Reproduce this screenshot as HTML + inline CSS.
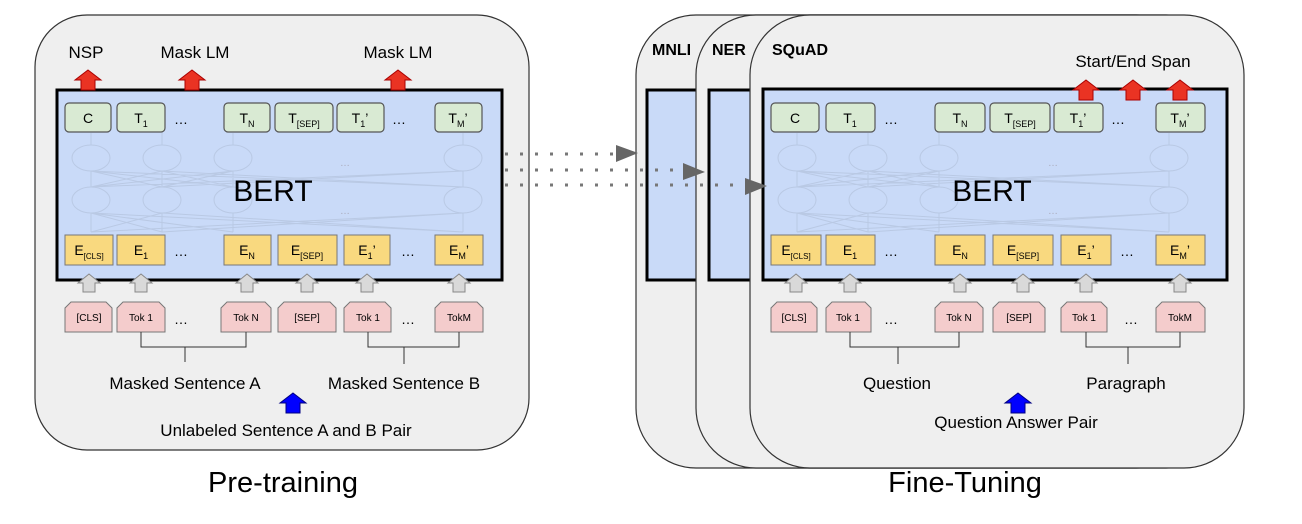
<!DOCTYPE html>
<html><head><meta charset="utf-8"><style>
html,body{margin:0;padding:0;background:#fff;}
svg{display:block;font-family:"Liberation Sans",sans-serif;}
</style></head><body>
<svg width="1302" height="524" viewBox="0 0 1302 524" xmlns="http://www.w3.org/2000/svg">
<defs>
<g id="net" stroke="#b3c2dc" stroke-width="1" fill="none" opacity="0.7">
  <ellipse cx="91" cy="158" rx="19" ry="13"/><ellipse cx="162" cy="158" rx="19" ry="13"/><ellipse cx="233" cy="158" rx="19" ry="13"/><ellipse cx="463" cy="158" rx="19" ry="13"/>
  <ellipse cx="91" cy="200" rx="19" ry="13"/><ellipse cx="162" cy="200" rx="19" ry="13"/><ellipse cx="233" cy="200" rx="19" ry="13"/><ellipse cx="463" cy="200" rx="19" ry="13"/>
  <path d="M91 187 L91 171 M162 187 L162 171 M233 187 L233 171 M463 187 L463 171 M91 187 L162 171 M91 187 L233 171 M91 187 L463 171 M162 187 L91 171 M162 187 L233 171 M162 187 L463 171 M233 187 L91 171 M233 187 L162 171 M463 187 L91 171 M463 187 L162 171"/>
  <path d="M91 232 L91 213 M162 232 L162 213 M233 232 L233 213 M463 232 L463 213 M91 232 L162 213 M91 232 L463 213 M162 232 L91 213 M162 232 L463 213 M233 232 L91 213 M463 232 L91 213 M463 232 L162 213"/>
  <path d="M91 145 L91 133 M162 145 L162 133 M233 145 L233 133 M463 145 L463 133"/>
</g>
<g id="garr"><polygon points="0,-9 11,0 6,0 6,9 -6,9 -6,0 -11,0" fill="#d9d9d9" stroke="#888" stroke-width="1"/></g>
<g id="rarr"><polygon points="0,-10 13,0 7,0 7,10 -7,10 -7,0 -13,0" fill="#ea3323" stroke="#a00" stroke-width="1"/></g>
<g id="barr"><polygon points="0,-10 13,0 7,0 7,10 -7,10 -7,0 -13,0" fill="#0000ff" stroke="#000080" stroke-width="1"/></g>
</defs>

<!-- LEFT PANEL -->
<rect x="35" y="15" width="494" height="435" rx="52" fill="#efefef" stroke="#333" stroke-width="1.2"/>
<text x="86" y="58" font-size="17" text-anchor="middle">NSP</text>
<text x="195" y="58" font-size="17" text-anchor="middle">Mask LM</text>
<text x="398" y="58" font-size="17" text-anchor="middle">Mask LM</text>
<rect x="57" y="90" width="445" height="190" fill="#c9daf8" stroke="#000" stroke-width="3"/>
<use href="#rarr" x="88" y="80"/><use href="#rarr" x="192" y="80"/><use href="#rarr" x="398" y="80"/>
<use href="#net"/>
<text x="345" y="166" font-size="10" fill="#aab" text-anchor="middle">…</text>
<text x="345" y="214" font-size="10" fill="#aab" text-anchor="middle">…</text>
<text x="273" y="201" font-size="30" text-anchor="middle">BERT</text>
<g fill="#d9ead3" stroke="#555" stroke-width="1.2">
<rect x="65" y="103" width="46" height="29" rx="4"/><rect x="117" y="103" width="48" height="29" rx="4"/><rect x="224" y="103" width="46" height="29" rx="4"/><rect x="275" y="103" width="58" height="29" rx="4"/><rect x="337" y="103" width="47" height="29" rx="4"/><rect x="435" y="103" width="47" height="29" rx="4"/>
</g>
<g font-size="14" text-anchor="middle">
<text x="88" y="123">C</text>
<text x="141" y="123">T<tspan font-size="9" dy="4">1</tspan></text>
<text x="181" y="124">…</text>
<text x="247" y="123">T<tspan font-size="9" dy="4">N</tspan></text>
<text x="304" y="123">T<tspan font-size="9" dy="4">[SEP]</tspan></text>
<text x="360" y="123">T<tspan font-size="9" dy="4">1</tspan><tspan dy="-4">’</tspan></text>
<text x="399" y="124">…</text>
<text x="458" y="123">T<tspan font-size="9" dy="4">M</tspan><tspan dy="-4">’</tspan></text>
</g>
<g fill="#f9d97f" stroke="#777" stroke-width="1">
<rect x="65" y="235" width="48" height="30"/><rect x="117" y="235" width="48" height="30"/><rect x="224" y="235" width="47" height="30"/><rect x="278" y="235" width="59" height="30"/><rect x="344" y="235" width="46" height="30"/><rect x="435" y="235" width="48" height="30"/>
</g>
<g font-size="14" text-anchor="middle">
<text x="89" y="255">E<tspan font-size="8" dy="4">[CLS]</tspan></text>
<text x="141" y="255">E<tspan font-size="9" dy="4">1</tspan></text>
<text x="181" y="256">…</text>
<text x="247" y="255">E<tspan font-size="9" dy="4">N</tspan></text>
<text x="307" y="255">E<tspan font-size="9" dy="4">[SEP]</tspan></text>
<text x="367" y="255">E<tspan font-size="9" dy="4">1</tspan><tspan dy="-4">’</tspan></text>
<text x="408" y="256">…</text>
<text x="459" y="255">E<tspan font-size="9" dy="4">M</tspan><tspan dy="-4">’</tspan></text>
</g>
<use href="#garr" x="89" y="283"/><use href="#garr" x="141" y="283"/><use href="#garr" x="247" y="283"/><use href="#garr" x="307" y="283"/><use href="#garr" x="367" y="283"/><use href="#garr" x="459" y="283"/>
<g fill="#f4cccc" stroke="#777" stroke-width="1">
<polygon points="71,302 106,302 112,308 112,332 65,332 65,308"/>
<polygon points="123,302 159,302 165,308 165,332 117,332 117,308"/>
<polygon points="227,302 265,302 271,308 271,332 221,332 221,308"/>
<polygon points="284,302 330,302 336,308 336,332 278,332 278,308"/>
<polygon points="350,302 385,302 391,308 391,332 344,332 344,308"/>
<polygon points="441,302 477,302 483,308 483,332 435,332 435,308"/>
</g>
<g font-size="10" text-anchor="middle">
<text x="89" y="321">[CLS]</text><text x="141" y="321">Tok 1</text><text x="246" y="321">Tok N</text><text x="307" y="321">[SEP]</text><text x="368" y="321">Tok 1</text><text x="459" y="321">TokM</text>
</g>
<text x="181" y="324" font-size="14" text-anchor="middle">…</text>
<text x="408" y="324" font-size="14" text-anchor="middle">…</text>
<path d="M141 332 V347 H246 V332 M185 347 V362 M368 332 V347 H459 V332 M404 347 V364" stroke="#333" fill="none" stroke-width="1"/>
<text x="185" y="389" font-size="17" text-anchor="middle">Masked Sentence A</text>
<text x="404" y="389" font-size="17" text-anchor="middle">Masked Sentence B</text>
<use href="#barr" x="293" y="403"/>
<text x="286" y="436" font-size="17" text-anchor="middle">Unlabeled Sentence A and B Pair</text>
<text x="283" y="492" font-size="29" text-anchor="middle">Pre-training</text>

<!-- RIGHT PANELS -->
<rect x="636" y="15" width="560" height="453" rx="60" fill="#efefef" stroke="#333" stroke-width="1.2"/>
<rect x="647" y="90" width="500" height="190" fill="#c9daf8" stroke="#000" stroke-width="3"/>
<text x="652" y="55" font-size="16" font-weight="bold">MNLI</text>
<rect x="696" y="15" width="530" height="453" rx="60" fill="#efefef" stroke="#333" stroke-width="1.2"/>
<rect x="709" y="90" width="500" height="190" fill="#c9daf8" stroke="#000" stroke-width="3"/>
<text x="712" y="55" font-size="16" font-weight="bold">NER</text>
<rect x="750" y="15" width="494" height="453" rx="60" fill="#efefef" stroke="#333" stroke-width="1.2"/>
<text x="772" y="55" font-size="16" font-weight="bold">SQuAD</text>
<text x="1133" y="67" font-size="17" text-anchor="middle">Start/End Span</text>
<rect x="763" y="89" width="464" height="191" fill="#c9daf8" stroke="#000" stroke-width="3"/>
<use href="#rarr" x="1086" y="90"/><use href="#rarr" x="1133" y="90"/><use href="#rarr" x="1180" y="90"/>
<use href="#net" transform="translate(706,0)"/>
<text x="1053" y="166" font-size="10" fill="#aab" text-anchor="middle">…</text>
<text x="1053" y="214" font-size="10" fill="#aab" text-anchor="middle">…</text>
<text x="992" y="201" font-size="30" text-anchor="middle">BERT</text>
<g fill="#d9ead3" stroke="#555" stroke-width="1.2">
<rect x="771" y="103" width="48" height="29" rx="4"/><rect x="826" y="103" width="49" height="29" rx="4"/><rect x="935" y="103" width="50" height="29" rx="4"/><rect x="990" y="103" width="60" height="29" rx="4"/><rect x="1054" y="103" width="49" height="29" rx="4"/><rect x="1156" y="103" width="49" height="29" rx="4"/>
</g>
<g font-size="14" text-anchor="middle">
<text x="795" y="123">C</text>
<text x="850" y="123">T<tspan font-size="9" dy="4">1</tspan></text>
<text x="891" y="124">…</text>
<text x="960" y="123">T<tspan font-size="9" dy="4">N</tspan></text>
<text x="1020" y="123">T<tspan font-size="9" dy="4">[SEP]</tspan></text>
<text x="1078" y="123">T<tspan font-size="9" dy="4">1</tspan><tspan dy="-4">’</tspan></text>
<text x="1118" y="124">…</text>
<text x="1180" y="123">T<tspan font-size="9" dy="4">M</tspan><tspan dy="-4">’</tspan></text>
</g>
<g fill="#f9d97f" stroke="#777" stroke-width="1">
<rect x="771" y="235" width="50" height="30"/><rect x="826" y="235" width="49" height="30"/><rect x="935" y="235" width="50" height="30"/><rect x="993" y="235" width="60" height="30"/><rect x="1061" y="235" width="50" height="30"/><rect x="1156" y="235" width="49" height="30"/>
</g>
<g font-size="14" text-anchor="middle">
<text x="796" y="255">E<tspan font-size="8" dy="4">[CLS]</tspan></text>
<text x="850" y="255">E<tspan font-size="9" dy="4">1</tspan></text>
<text x="891" y="256">…</text>
<text x="960" y="255">E<tspan font-size="9" dy="4">N</tspan></text>
<text x="1023" y="255">E<tspan font-size="9" dy="4">[SEP]</tspan></text>
<text x="1086" y="255">E<tspan font-size="9" dy="4">1</tspan><tspan dy="-4">’</tspan></text>
<text x="1127" y="256">…</text>
<text x="1180" y="255">E<tspan font-size="9" dy="4">M</tspan><tspan dy="-4">’</tspan></text>
</g>
<use href="#garr" x="796" y="283"/><use href="#garr" x="850" y="283"/><use href="#garr" x="960" y="283"/><use href="#garr" x="1023" y="283"/><use href="#garr" x="1086" y="283"/><use href="#garr" x="1180" y="283"/>
<g fill="#f4cccc" stroke="#777" stroke-width="1">
<polygon points="777,302 811,302 817,308 817,332 771,332 771,308"/>
<polygon points="832,302 865,302 871,308 871,332 826,332 826,308"/>
<polygon points="941,302 977,302 983,308 983,332 935,332 935,308"/>
<polygon points="999,302 1039,302 1045,308 1045,332 993,332 993,308"/>
<polygon points="1067,302 1101,302 1107,308 1107,332 1061,332 1061,308"/>
<polygon points="1162,302 1199,302 1205,308 1205,332 1156,332 1156,308"/>
</g>
<g font-size="10" text-anchor="middle">
<text x="794" y="321">[CLS]</text><text x="848" y="321">Tok 1</text><text x="959" y="321">Tok N</text><text x="1019" y="321">[SEP]</text><text x="1084" y="321">Tok 1</text><text x="1180" y="321">TokM</text>
</g>
<text x="891" y="324" font-size="14" text-anchor="middle">…</text>
<text x="1131" y="324" font-size="14" text-anchor="middle">…</text>
<path d="M850 332 V347 H959 V332 M898 347 V364 M1086 332 V347 H1180 V332 M1128 347 V364" stroke="#333" fill="none" stroke-width="1"/>
<text x="897" y="389" font-size="17" text-anchor="middle">Question</text>
<text x="1126" y="389" font-size="17" text-anchor="middle">Paragraph</text>
<use href="#barr" x="1018" y="403"/>
<text x="1016" y="428" font-size="17" text-anchor="middle">Question Answer Pair</text>
<text x="965" y="492" font-size="29" text-anchor="middle">Fine-Tuning</text>

<!-- dotted arrows (on top) -->
<path d="M505 154 H622" stroke="#777" stroke-width="3" stroke-dasharray="3 12"/>
<path d="M505 170 H688" stroke="#777" stroke-width="3" stroke-dasharray="3 12"/>
<path d="M505 185 H748" stroke="#777" stroke-width="3" stroke-dasharray="3 12"/>
<polygon points="616,145 638,153 616,162" fill="#666"/>
<polygon points="683,163 705,172 683,180" fill="#666"/>
<polygon points="745,178 767,186 745,195" fill="#666"/>
</svg>
</body></html>
